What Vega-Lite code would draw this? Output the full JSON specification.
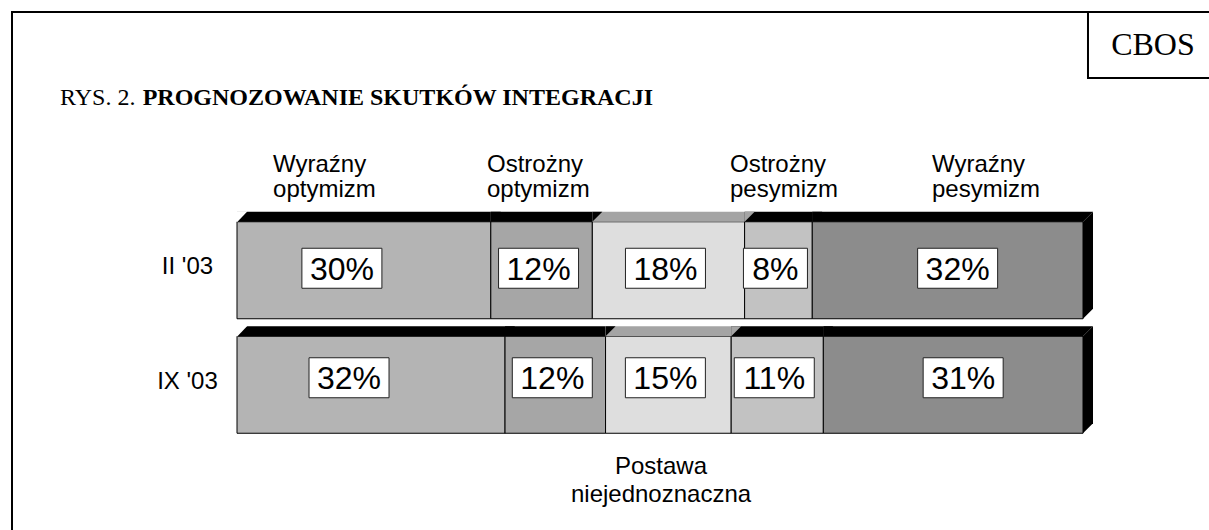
{
  "$schema": "https://vega.github.io/schema/vega-lite/v6.json",
  "width": 1200,
  "height": 521,
  "autosize": {"type": "none"},
  "padding": {"left": 12, "top": 12, "right": -3, "bottom": -3},
  "background": "white",
  "config": {"view": {"stroke": "black", "strokeWidth": 2}, "font": "Liberation Sans"},
  "layer": [
    {
      "data": {
        "values": [
          {"period": "II '03", "category": "Wyraźny optymizm", "value": 30},
          {"period": "II '03", "category": "Ostrożny optymizm", "value": 12},
          {"period": "II '03", "category": "Postawa niejednoznaczna", "value": 18},
          {"period": "II '03", "category": "Ostrożny pesymizm", "value": 8},
          {"period": "II '03", "category": "Wyraźny pesymizm", "value": 32},
          {"period": "IX '03", "category": "Wyraźny optymizm", "value": 32},
          {"period": "IX '03", "category": "Ostrożny optymizm", "value": 12},
          {"period": "IX '03", "category": "Postawa niejednoznaczna", "value": 15},
          {"period": "IX '03", "category": "Ostrożny pesymizm", "value": 11},
          {"period": "IX '03", "category": "Wyraźny pesymizm", "value": 31}
        ]
      },
      "transform": [
        {"stack": "value", "groupby": ["period"], "offset": "normalize", "as": ["x0", "x1"]},
        {"calculate": "(datum.x0 + datum.x1) / 2", "as": "mid"},
        {"calculate": "datum.value + '%'", "as": "label"}
      ],
      "encoding": {
        "y": {
          "field": "period",
          "type": "nominal",
          "title": null,
          "scale": {"type": "band", "domain": ["II '03", "IX '03"], "range": [201, 430], "paddingInner": 0, "paddingOuter": 0},
          "axis": {
            "orient": "left",
            "domain": false,
            "ticks": false,
            "tickSize": 0,
            "grid": false,
            "labelPadding": -175,
            "labelAlign": "center",
            "labelBaseline": "middle",
            "labelFont": "Liberation Sans",
            "labelFontSize": 24,
            "labelColor": "black",
            "labelOffset": -3
          }
        }
      },
      "layer": [
        {
          "mark": {"type": "bar", "size": 97, "stroke": "black", "strokeWidth": 1},
          "encoding": {
            "x": {"field": "x0", "type": "quantitative", "scale": {"domain": [0, 1], "range": [225, 1071]}, "axis": null},
            "x2": {"field": "x1"},
            "color": {
              "field": "category",
              "type": "nominal",
              "legend": null,
              "scale": {
                "domain": ["Wyraźny optymizm", "Ostrożny optymizm", "Postawa niejednoznaczna", "Ostrożny pesymizm", "Wyraźny pesymizm"],
                "range": ["#b4b4b4", "#a6a6a6", "#dedede", "#c2c2c2", "#8c8c8c"]
              }
            }
          }
        },
        {
          "mark": {"type": "bar", "size": 10, "yOffset": -53.5, "strokeWidth": 0},
          "encoding": {
            "x": {"field": "x0", "type": "quantitative"},
            "x2": {"field": "x1"},
            "fill": {"condition": {"test": "datum.category === 'Postawa niejednoznaczna'", "value": "#a4a4a4"}, "value": "black"}
          }
        },
        {
          "mark": {"type": "point", "shape": "M0,-0.97L0,-1.17L0.2,-1.17Z", "size": 10000, "filled": true, "opacity": 1, "strokeWidth": 0},
          "encoding": {
            "x": {"field": "x1", "type": "quantitative"},
            "fill": {"condition": {"test": "datum.category === 'Postawa niejednoznaczna'", "value": "#a4a4a4"}, "value": "black"}
          }
        },
        {
          "transform": [{"filter": "datum.category === 'Wyraźny optymizm'"}],
          "mark": {"type": "point", "shape": "M0,-0.96L0,-1.18L0.21,-1.18Z", "size": 10000, "filled": true, "opacity": 1, "fill": "white", "strokeWidth": 0},
          "encoding": {"x": {"field": "x0", "type": "quantitative"}}
        },
        {
          "transform": [{"filter": "datum.category === 'Wyraźny pesymizm'"}],
          "mark": {"type": "point", "shape": "M0,-0.97L0.2,-1.17L0.2,0.77L0,0.97Z", "size": 10000, "filled": true, "opacity": 1, "fill": "black", "strokeWidth": 0},
          "encoding": {"x": {"field": "x1", "type": "quantitative"}}
        },
        {
          "mark": {
            "type": "point",
            "filled": false,
            "fill": "white",
            "stroke": "#222222",
            "strokeWidth": 1,
            "opacity": 1,
            "fillOpacity": 1,
            "xOffset": {"expr": "datum.category === 'Wyraźny optymizm' ? -22 : datum.category === 'Wyraźny pesymizm' ? 10 : -3"},
            "yOffset": {"expr": "datum.period === \"II '03\" ? -2 : -7"}
          },
          "encoding": {
            "x": {"field": "mid", "type": "quantitative"},
            "shape": {"condition": {"test": "datum.value < 10", "value": "M-1,-0.625H1V0.625H-1Z"}, "value": "M-1,-0.5H1V0.5H-1Z"},
            "size": {"condition": {"test": "datum.value < 10", "value": 4096}, "value": 6400}
          }
        },
        {
          "mark": {
            "type": "text",
            "font": "Liberation Sans",
            "fontSize": 32,
            "color": "black",
            "align": "center",
            "baseline": "middle",
            "xOffset": {"expr": "datum.category === 'Wyraźny optymizm' ? -22 : datum.category === 'Wyraźny pesymizm' ? 10 : -3"},
            "yOffset": {"expr": "datum.period === \"II '03\" ? 0 : -6"}
          },
          "encoding": {
            "x": {"field": "mid", "type": "quantitative"},
            "text": {"field": "label"}
          }
        }
      ]
    },
    {
      "data": {"values": [{}]},
      "mark": {"type": "text", "text": ["Wyraźny", "optymizm"], "font": "Liberation Sans", "fontSize": 24, "color": "black", "align": "left", "baseline": "alphabetic", "lineHeight": 25, "yOffset": -98.25},
      "encoding": {"x": {"datum": 0.0426, "type": "quantitative"}, "y": {"datum": "II '03", "type": "nominal"}}
    },
    {
      "data": {"values": [{}]},
      "mark": {"type": "text", "text": ["Ostrożny", "optymizm"], "font": "Liberation Sans", "fontSize": 24, "color": "black", "align": "left", "baseline": "alphabetic", "lineHeight": 25, "yOffset": -98.25},
      "encoding": {"x": {"datum": 0.2955, "type": "quantitative"}, "y": {"datum": "II '03", "type": "nominal"}}
    },
    {
      "data": {"values": [{}]},
      "mark": {"type": "text", "text": ["Ostrożny", "pesymizm"], "font": "Liberation Sans", "fontSize": 24, "color": "black", "align": "left", "baseline": "alphabetic", "lineHeight": 25, "yOffset": -98.25},
      "encoding": {"x": {"datum": 0.5827, "type": "quantitative"}, "y": {"datum": "II '03", "type": "nominal"}}
    },
    {
      "data": {"values": [{}]},
      "mark": {"type": "text", "text": ["Wyraźny", "pesymizm"], "font": "Liberation Sans", "fontSize": 24, "color": "black", "align": "left", "baseline": "alphabetic", "lineHeight": 25, "yOffset": -98.25},
      "encoding": {"x": {"datum": 0.8215, "type": "quantitative"}, "y": {"datum": "II '03", "type": "nominal"}}
    },
    {
      "data": {"values": [{}]},
      "mark": {"type": "text", "text": ["Postawa", "niejednoznaczna"], "font": "Liberation Sans", "fontSize": 24, "color": "black", "align": "center", "baseline": "alphabetic", "lineHeight": 28, "yOffset": 89.25},
      "encoding": {"x": {"datum": 0.5012, "type": "quantitative"}, "y": {"datum": "IX '03", "type": "nominal"}}
    },
    {
      "data": {"values": [{}]},
      "mark": {"type": "text", "text": "RYS. 2.", "font": "Liberation Serif", "fontSize": 24, "color": "black", "align": "left", "baseline": "alphabetic", "yOffset": -165.25},
      "encoding": {"x": {"datum": -0.2092, "type": "quantitative"}, "y": {"datum": "II '03", "type": "nominal"}}
    },
    {
      "data": {"values": [{}]},
      "mark": {"type": "text", "text": "PROGNOZOWANIE SKUTKÓW INTEGRACJI", "font": "Liberation Serif", "fontSize": 24, "fontWeight": "bold", "color": "black", "align": "left", "baseline": "alphabetic", "yOffset": -165.25},
      "encoding": {"x": {"datum": -0.1115, "type": "quantitative"}, "y": {"datum": "II '03", "type": "nominal"}}
    },
    {
      "data": {"values": [{}]},
      "mark": {"type": "bar", "size": 66, "fill": "white", "stroke": "black", "strokeWidth": 2, "yOffset": -225.25},
      "encoding": {"x": {"datum": 1.0059, "type": "quantitative"}, "x2": {"datum": 1.3}, "y": {"datum": "II '03", "type": "nominal"}}
    },
    {
      "data": {"values": [{}]},
      "mark": {"type": "text", "text": "CBOS", "font": "Liberation Serif", "fontSize": 32, "color": "black", "align": "center", "baseline": "alphabetic", "yOffset": -215.25},
      "encoding": {"x": {"datum": 1.0827, "type": "quantitative"}, "y": {"datum": "II '03", "type": "nominal"}}
    }
  ]
}
